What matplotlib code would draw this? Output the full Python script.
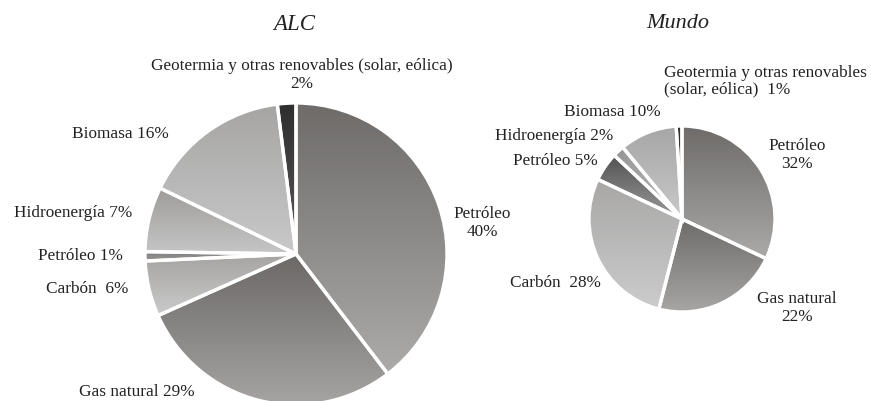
import numpy as np
import matplotlib.pyplot as plt
from matplotlib.colors import LinearSegmentedColormap

# Datos (orden horario desde arriba)
alc_labels = ['Petróleo', 'Gas natural', 'Carbón', 'Petróleo', 'Hidroenergía',
              'Biomasa', 'Geotermia y otras renovables (solar, eólica)']
alc_values = [40, 29, 6, 1, 7, 16, 2]

mundo_labels = ['Petróleo', 'Gas natural', 'Carbón', 'Petróleo', 'Hidroenergía',
                'Biomasa', 'Geotermia y otras renovables (solar, eólica)']
mundo_values = [32, 22, 28, 5, 2, 10, 1]

# degradados (arriba, abajo)
alc_colors = [('#6e6b69', '#acabaa'), ('#6b6866', '#a7a5a4'), ('#a6a4a2', '#cbcbcb'),
              ('#7d7b79', '#9a9897'), ('#9e9c9a', '#c6c6c6'), ('#a6a5a4', '#c9c9c9'),
              ('#2e2e2e', '#5a5a5a')]
mundo_colors = [('#6e6b69', '#abaaa9'), ('#6e6b69', '#a8a7a6'), ('#a8a7a6', '#cccccc'),
                ('#525252', '#9a9a9a'), ('#959595', '#bdbdbd'), ('#a6a6a6', '#c9c9c9'),
                ('#2e2e2e', '#4a4a4a')]

W, H = 871, 401
FONT = 'Liberation Serif'
TXT = '#222222'
FS = 12.4


def gradient_pie(ax, values, colors, cx, cy, r):
    wedges, _ = ax.pie(values, center=(cx, H - cy), radius=r, startangle=90,
                       counterclock=False,
                       wedgeprops=dict(edgecolor='white', linewidth=2.4))
    grad = np.linspace(0, 1, 256).reshape(-1, 1)
    for w, (c0, c1) in zip(wedges, colors):
        verts = w.get_path().vertices
        x0, y0 = verts.min(axis=0)
        x1, y1 = verts.max(axis=0)
        cmap = LinearSegmentedColormap.from_list('g', [c0, c1])
        im = ax.imshow(grad, cmap=cmap, extent=(x0, x1, y0, y1), origin='upper',
                       aspect='auto', zorder=1, interpolation='bilinear')
        im.set_clip_path(w)
        w.set_facecolor('none')
        w.set_zorder(2)


fig = plt.figure(figsize=(W / 100, H / 100), dpi=100)
ax = fig.add_axes([0, 0, 1, 1])

gradient_pie(ax, alc_values, alc_colors, 296, 254, 151)
gradient_pie(ax, mundo_values, mundo_colors, 682, 219, 93)

ax.set_xlim(0, W)
ax.set_ylim(0, H)
ax.set_aspect('equal')
ax.axis('off')


def txt(x, y, s, ha='center', size=FS, ls=1.2, **kw):
    ax.text(x, H - y, s, ha=ha, va='center', fontsize=size, family=FONT,
            color=TXT, linespacing=ls, **kw)


# títulos
txt(294, 24, 'ALC', size=16.5, style='italic')
txt(678, 24, 'Mundo', size=16, style='italic')

# etiquetas ALC
txt(302, 75, f'{alc_labels[6]}\n{alc_values[6]}%')
txt(120, 134, f'{alc_labels[5]} {alc_values[5]}%')
txt(132, 213, f'{alc_labels[4]} {alc_values[4]}%', ha='right')
txt(123, 256, f'{alc_labels[3]} {alc_values[3]}%', ha='right')
txt(128, 289, f'{alc_labels[2]}  {alc_values[2]}%', ha='right')
txt(137, 392, f'{alc_labels[1]} {alc_values[1]}%')
txt(482, 223, f'{alc_labels[0]}\n{alc_values[0]}%')

# etiquetas Mundo
txt(664, 81, 'Geotermia y otras renovables\n(solar, eólica)  ' + f'{mundo_values[6]}%',
    ha='left', ls=1.05)
txt(661, 112, f'{mundo_labels[5]} {mundo_values[5]}%', ha='right')
txt(613, 136, f'{mundo_labels[4]} {mundo_values[4]}%', ha='right')
txt(598, 161, f'{mundo_labels[3]} {mundo_values[3]}%', ha='right')
txt(601, 283, f'{mundo_labels[2]}  {mundo_values[2]}%', ha='right')
txt(797, 155, f'{mundo_labels[0]}\n{mundo_values[0]}%')
txt(797, 308, f'{mundo_labels[1]}\n{mundo_values[1]}%')

fig.savefig('out.png', dpi=100)
